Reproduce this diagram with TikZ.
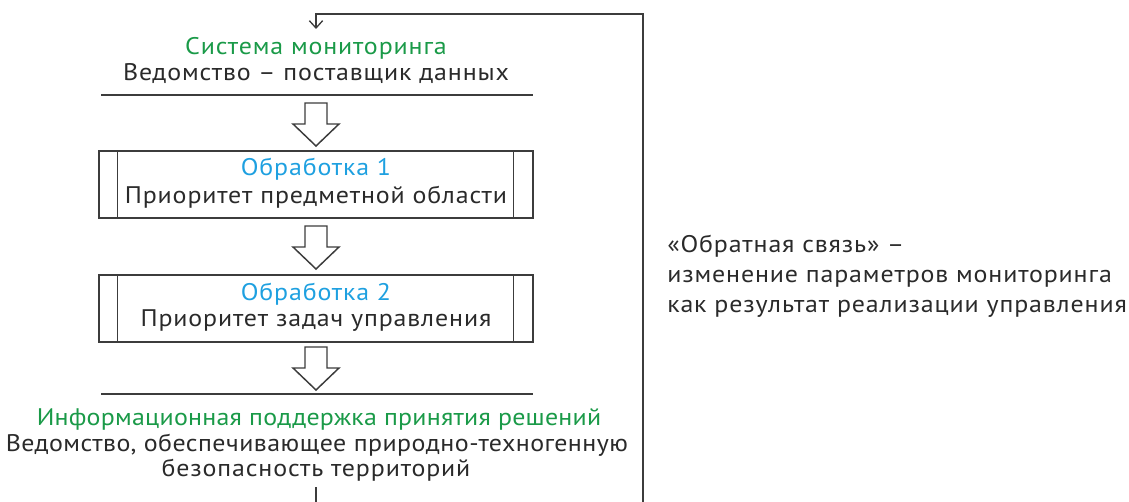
\documentclass[tikz,border=0pt]{standalone}
\usepackage{fontspec}
\setmainfont{PT Sans}[FakeStretch=1.08, LetterSpace=3.6]
\usetikzlibrary{calc,arrows.meta}
\definecolor{ink}{HTML}{2A2A2A}
\definecolor{rule}{HTML}{3C3C3C}
\definecolor{headgreen}{HTML}{1A9A48}
\definecolor{headblue}{HTML}{1EA0E0}
% hollow block arrow hanging below a named coordinate
\newcommand\blockarrow[1]{%
  \draw[edge, fill=white] (#1) ++(-11,0) -- ++(22,0) -- ++(0,21) -- ++(12,0)
    -- ++(-23,22) -- ++(-23,-22) -- ++(12,0) -- cycle;}
\begin{document}
\begin{tikzpicture}[x=0.75pt,y=-0.75pt,
  edge/.style={draw=rule, line width=1.1pt, line join=miter},
  txt/.style={font=\fontsize{18}{21}\selectfont, text=ink, inner sep=0pt, anchor=base},
  tighttxt/.style={txt, font=\fontsize{18}{21}\selectfont\addfontfeatures{LetterSpace=2}},
  greentxt/.style={txt, text=headgreen},
  bluetxt/.style={txt, text=headblue},
  procbox/.style={edge, minimum width=325.5pt, minimum height=50.5pt, inner sep=0pt},
  loop/.style={edge, line width=1pt}]
\useasboundingbox (0,0) rectangle (1129,502);

% source block
\node[greentxt] (src) at (316,55) {Система мониторинга};
\node[txt] (srcsub) at (316,81) {Ведомство – поставщик данных};
\coordinate (ruleAL) at (101,95);
\coordinate (ruleAR) at (533,95);
\draw[edge] (ruleAL) -- (ruleAR);

% first processing step
\node[procbox] (p1) at (316,184.5) {};
\draw[edge] ($(p1.north west)+(19,0)$) -- ($(p1.south west)+(19,0)$);
\draw[edge] ($(p1.north east)+(-20,0)$) -- ($(p1.south east)+(-20,0)$);
\node[bluetxt] (p1head) at (316,176) {Обработка 1};
\node[txt] (p1sub) at (316,204) {Приоритет предметной области};

% second processing step
\node[procbox] (p2) at (316,308.5) {};
\draw[edge] ($(p2.north west)+(19,0)$) -- ($(p2.south west)+(19,0)$);
\draw[edge] ($(p2.north east)+(-20,0)$) -- ($(p2.south east)+(-20,0)$);
\node[bluetxt] (p2head) at (316,301) {Обработка 2};
\node[txt] (p2sub) at (316,327) {Приоритет задач управления};

% decision support block
\coordinate (ruleBL) at (101,394);
\coordinate (ruleBR) at (533,394);
\draw[edge] (ruleBL) -- (ruleBR);
\node[greentxt, font=\fontsize{18}{21}\selectfont\addfontfeatures{LetterSpace=1}] (dss) at (319,426) {Информационная поддержка принятия решений};
\node[tighttxt] (dss1) at (317,451) {Ведомство, обеспечивающее природно-техногенную};
\node[txt] (dss2) at (316,476) {безопасность территорий};

% block arrows between the stages
\coordinate (a1) at (316,103);
\coordinate (a2) at (316,226);
\coordinate (a3) at (316,347);
\blockarrow{a1}
\blockarrow{a2}
\blockarrow{a3}

% feedback loop
\coordinate (outTop) at (316,487);
\coordinate (outBot) at (316,502);
\coordinate (loopBot) at (643,502);
\coordinate (loopTop) at (643,14);
\coordinate (inTip) at (316,29);
\draw[loop] (outTop) -- (outBot);
\draw[loop, -{Straight Barb[length=5.5pt,width=10pt]}] (loopBot) -- (loopTop) -| (inTip);

% feedback note
\node[txt, anchor=base west] (fb1) at (667,253) {«Обратная связь» –};
\node[txt, anchor=base west] (fb2) at (667,283) {изменение параметров мониторинга};
\node[txt, anchor=base west] (fb3) at (667,313) {как результат реализации управления};
\end{tikzpicture}
\end{document}
